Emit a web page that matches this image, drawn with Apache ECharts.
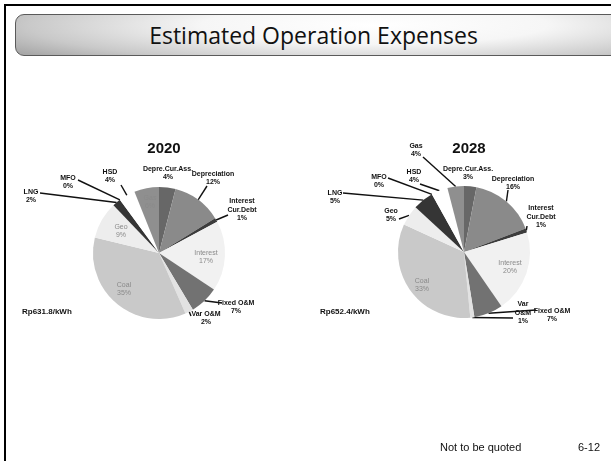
<!DOCTYPE html>
<html>
<head>
<meta charset="utf-8">
<script src="https://cdn.jsdelivr.net/npm/echarts@6/dist/echarts.min.js"></script>
<style>
  html, body { margin: 0; padding: 0; width: 611px; height: 461px; overflow: hidden; background: #fff; }
  #frame { position: absolute; left: 4px; top: 4px; width: 640px; height: 480px;
           border-left: 2.5px solid #000; border-top: 2.5px solid #000; }
  #head { position: absolute; left: 15px; top: 14px; width: 620px; height: 42px;
          border: 1px solid #5a5a5a; border-radius: 9px; box-sizing: border-box;
          background: radial-gradient(ellipse 70% 120% at 58% 25%, #ffffff 0%, #f6f6f6 40%, #c9c9c9 80%, #a8a8a8 100%); }
  #headText { position: absolute; left: 15px; top: 14px; width: 597px; height: 42px; line-height: 42px;
              text-align: center; font-family: "Open Sans", "Noto Sans", sans-serif; font-size: 23px; color: #111; }
  #chart { position: absolute; left: 0; top: 0; width: 611px; height: 461px; filter: blur(0.45px); }
  .foot { position: absolute; top: 441px; font-family: "Liberation Sans", Arial, sans-serif; font-size: 11px; color: #111; }
</style>
</head>
<body>
<div id="frame"></div>
<div id="head"></div>
<div id="headText">Estimated Operation Expenses</div>
<div id="chart"></div>
<div class="foot" style="left:440px">Not to be quoted</div>
<div class="foot" style="left:578px">6-12</div>
<script>
// Cost components, clockwise from 12 o'clock
const categories2020 = ['Depre.Cur.Ass.', 'Depreciation', 'Interest\nCur.Debt', 'Interest', 'Fixed O&M', 'Var O&M',
                        'Coal', 'Geo', 'LNG', 'MFO', 'HSD', 'Gas'];
const values2020 = [4, 12, 1, 17, 7, 2, 35, 9, 2, 0, 4, 6];

const categories2028 = ['Depre.Cur.Ass.', 'Depreciation', 'Interest\nCur.Debt', 'Interest', 'Fixed O&M', 'Var\nO&M',
                        'Coal', 'Geo', 'LNG', 'MFO', 'HSD', 'Gas'];
const values2028 = [3, 16, 1, 20, 7, 1, 33, 5, 5, 0, 4, 4];

const years = ['2020', '2028'];
const unitCosts = ['Rp631.8/kWh', 'Rp652.4/kWh'];

// Slice shades (same component = same shade in both years)
const shades = ['#676767', '#8a8a8a', '#3c3c3c', '#f1f1f1', '#727272', '#e2e2e2',
                '#c9c9c9', '#ededed', '#353535', '#222222', '#ffffff', '#8f8f8f'];
// Components whose label sits inside the slice
const insideSet = { 'Interest': 1, 'Coal': 1 };
const insideSet2020 = { 'Geo': 1, 'Gas': 1 };

// Label placement: [centerX, centerY, lineEndX, lineEndY] (null line end = no leader)
const labelSpots = [
  [ [168,173,null,null], [213,178,207,186], [242,210,228,215], [206,257,null,null], [236,307,222,303],
    [206,318,191,316], [124,289,null,null], [121,231,null,null], [31,196,40,193], [68,182,78,180],
    [110,176,121,185], [150,202,null,null] ],
  [ [468,173,null,null], [513,183,508,190], [541,217,527,226], [510,267,null,null], [552,315,536,310],
    [523,313,513,318], [422,285,null,null], [391,215,399,219], [335,197,343,193], [379,181,388,178],
    [414,176,420,184], [416,150,423,157] ]
];

function buildData(names, vals, yi) {
  return names.map((n, i) => {
    const inside = insideSet[n] || (yi === 0 && insideSet2020[n]);
    return {
      name: n,
      value: vals[i],
      itemStyle: { color: shades[i] },
      label: inside
        ? { position: 'inside', color: '#8a8a8a', fontWeight: 'normal', fontSize: 7 }
        : { position: 'outside' },
      labelLine: { show: !inside && labelSpots[yi][i][2] !== null }
    };
  });
}

function makeLayout(yi) {
  return function (params) {
    const s = labelSpots[yi][params.dataIndex];
    const out = { x: s[0], y: s[1], align: 'center', verticalAlign: 'middle' };
    if (s[2] !== null && params.labelLinePoints) {
      const p0 = params.labelLinePoints[0];
      out.labelLinePoints = [p0, [s[2], s[3]], [s[2], s[3]]];
    }
    return out;
  };
}

const centers = [[159, 253], [464, 252]];
const allData = [buildData(categories2020, values2020, 0), buildData(categories2028, values2028, 1)];

const chart = echarts.init(document.getElementById('chart'), null, { renderer: 'canvas' });
chart.setOption({
  animation: false,
  title: years.map((y, i) => ({
    text: y, left: centers[i][0], top: 136, textAlign: 'center',
    textStyle: { fontFamily: 'Liberation Sans Narrow, Liberation Sans, sans-serif', fontSize: 15, fontWeight: 'bold', color: '#111' }
  })),
  graphic: unitCosts.map((t, i) => ({
    type: 'text', left: i === 0 ? 22 : 320, top: 308,
    style: { text: t, font: 'bold 8px "Liberation Sans Narrow", "Liberation Sans", sans-serif', fill: '#111' }
  })),
  series: allData.map((d, i) => ({
    type: 'pie',
    center: centers[i],
    radius: 66,
    startAngle: 90,
    clockwise: true,
    avoidLabelOverlap: false,
    label: {
      show: true,
      formatter: '{b}\n{c}%',
      fontFamily: 'Liberation Sans Narrow, Liberation Sans, sans-serif',
      fontSize: 7, fontWeight: 'bold', color: '#111', lineHeight: 8.5
    },
    labelLine: { show: true, length: 6, length2: 6, lineStyle: { color: '#111', width: 1.4 } },
    labelLayout: makeLayout(i),
    emphasis: { disabled: true },
    data: d
  }))
});
</script>
</body>
</html>
